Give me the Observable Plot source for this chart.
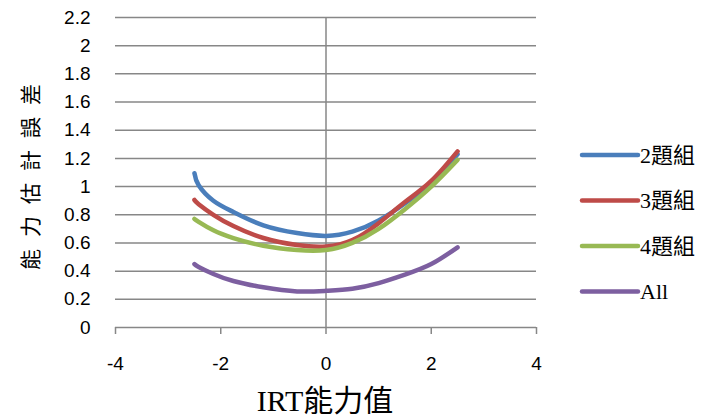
<!DOCTYPE html>
<html>
<head>
<meta charset="utf-8">
<script src="https://cdn.jsdelivr.net/npm/d3@7"></script>
<script src="https://cdn.jsdelivr.net/npm/@observablehq/plot@0.6"></script>
<style>
  html, body { margin: 0; padding: 0; background: #fff; }
  #chart { width: 719px; height: 419px; }
</style>
</head>
<body>
<div id="chart"></div>
<script>
const seriesNames = ["2題組", "3題組", "4題組", "All"];
const seriesColors = ["#4a7ebb", "#be4b48", "#98b954", "#7d5fa0"];
const xValues = [-2.5, -2.42, -2.14, -1.76, -1.19, -0.55, 0, 0.5, 1, 1.5, 2, 2.5];
const blue2 = [1.095, 1.01, 0.90, 0.82, 0.725, 0.67, 0.65, 0.68, 0.76, 0.88, 1.03, 1.23];
const red3 = [0.905, 0.875, 0.80, 0.72, 0.635, 0.585, 0.575, 0.62, 0.74, 0.89, 1.04, 1.25];
const green4 = [0.77, 0.75, 0.69, 0.635, 0.58, 0.55, 0.55, 0.60, 0.70, 0.84, 1.00, 1.19];
const purpleAll = [0.45, 0.43, 0.38, 0.33, 0.285, 0.256, 0.26, 0.275, 0.315, 0.375, 0.45, 0.569];
const xTicks = [-4, -2, 0, 2, 4];
const yTicks = [0, 0.2, 0.4, 0.6, 0.8, 1, 1.2, 1.4, 1.6, 1.8, 2, 2.2];
const yTitle = "能力估計誤差";
const xTitle = "IRT能力值";

const seriesValues = [blue2, red3, green4, purpleAll];
const data = [];
seriesNames.forEach((name, i) => {
  xValues.forEach((x, j) => data.push({series: name, x, y: seriesValues[i][j]}));
});

const gridColor = "#878787";

const svg = Plot.plot({
  width: 719,
  height: 419,
  marginLeft: 115,
  marginRight: 183,
  marginTop: 17,
  marginBottom: 92,
  style: {fontFamily: "'Liberation Sans', Arial, sans-serif", fontSize: "19px", color: "#000", background: "#fff"},
  x: {domain: [-4, 4]},
  y: {domain: [0, 2.2]},
  color: {domain: seriesNames, range: seriesColors},
  marks: [
    Plot.ruleY(yTicks.filter(d => d > 0), {stroke: gridColor, strokeWidth: 1.5}),
    Plot.ruleX([0], {y1: 0, y2: 2.2, stroke: gridColor, strokeWidth: 1.5}),
    Plot.ruleY([0], {stroke: gridColor, strokeWidth: 1.5}),
    Plot.axisX({ticks: xTicks, tickSize: 7, tickPadding: 22, tickFormat: d => String(d), stroke: gridColor, strokeWidth: 1.5, label: null, fill: "#000"}),
    Plot.axisY({ticks: yTicks, tickSize: 0, tickPadding: 25, tickFormat: d => String(+d.toFixed(1)), label: null, fill: "#000"}),
    Plot.line(data, {x: "x", y: "y", z: "series", stroke: "series", curve: "natural", strokeWidth: 4.5, strokeLinecap: "round", strokeLinejoin: "round"})
  ]
});

const s = d3.select(svg);
// Y title (rotated)
s.append("text")
  .attr("transform", "translate(38,171) rotate(-90)")
  .attr("text-anchor", "middle")
  .style("font-family", "'Noto Sans CJK TC', sans-serif")
  .style("font-size", "21px")
  .style("letter-spacing", "12px")
  .attr("fill", "#000")
  .text(yTitle);
// X title
s.append("text")
  .attr("x", 325)
  .attr("y", 411)
  .attr("text-anchor", "middle")
  .style("font-family", "'Liberation Serif', 'Noto Sans CJK TC', serif")
  .style("font-size", "30px")
  .attr("fill", "#000")
  .text(xTitle);
// Legend
const legendYs = [155, 200.5, 246, 291.5];
seriesNames.forEach((name, i) => {
  const g = s.append("g");
  g.append("line")
    .attr("x1", 582).attr("x2", 638)
    .attr("y1", legendYs[i]).attr("y2", legendYs[i])
    .attr("stroke", seriesColors[i]).attr("stroke-width", 4.5)
    .attr("stroke-linecap", "round");
  g.append("text")
    .attr("x", 640).attr("y", legendYs[i])
    .attr("dy", "0.36em")
    .attr("text-anchor", "start")
    .style("font-family", "'Liberation Serif', 'Noto Sans CJK TC', serif")
    .style("font-size", "22px")
    .attr("fill", "#000")
    .text(name);
});

document.getElementById("chart").appendChild(svg);
</script>
</body>
</html>
